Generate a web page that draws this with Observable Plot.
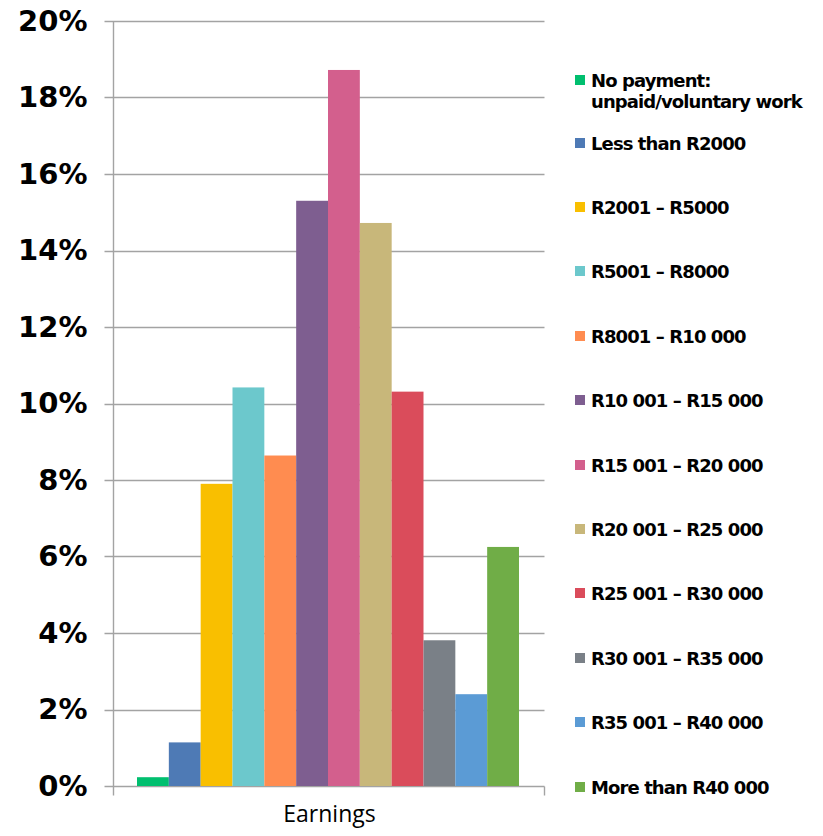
<!DOCTYPE html>
<html>
<head>
<meta charset="utf-8">
<script src="https://cdn.jsdelivr.net/npm/d3@7"></script>
<script src="https://cdn.jsdelivr.net/npm/@observablehq/plot@0.6"></script>
<style>
  body { margin: 0; background: #fff; }
  #wrap { position: relative; width: 823px; height: 836px; overflow: hidden; }
  #legend { position: absolute; left: 0; top: 0; font-family: "DejaVu Sans", sans-serif; font-weight: bold; font-size: 18px; letter-spacing: -0.9px; color: #000; }
  .item { position: absolute; left: 575px; white-space: nowrap; line-height: 21px; }
  .sw { position: absolute; left: 0; top: 5px; width: 10px; height: 10px; }
  .lbl { position: absolute; left: 16px; top: 0; }
</style>
</head>
<body>
<div id="wrap"><div id="legend"></div></div>
<script>
// ---- data ----
const categories = [
  "No payment:\nunpaid/voluntary work",
  "Less than R2000",
  "R2001 – R5000",
  "R5001 – R8000",
  "R8001 – R10 000",
  "R10 001 – R15 000",
  "R15 001 – R20 000",
  "R20 001 – R25 000",
  "R25 001 – R30 000",
  "R30 001 – R35 000",
  "R35 001 – R40 000",
  "More than R40 000"
];
const shares = [0.23, 1.14, 7.90, 10.42, 8.64, 15.30, 18.72, 14.72, 10.31, 3.81, 2.40, 6.25];
const colors = ["#00BF6F", "#4E7AB5", "#F9BF00", "#6CC8CC", "#FF8C50", "#7E5E90",
                "#D35F8D", "#C8B77A", "#DA4C5B", "#7A8087", "#5B9BD5", "#70AD47"];
const yTicks = [0, 2, 4, 6, 8, 10, 12, 14, 16, 18, 20];
const xLabel = "Earnings";

const data = categories.map((c, i) => ({cat: c, v: shares[i]}));

// axis lines, grid and tick stubs drawn with the plot's scales
const gridColor = "#a3a3a3";
function axisLines(index, scales, values, dims) {
  const g = d3.create("svg:g").attr("stroke", gridColor).attr("stroke-width", 1.4).attr("fill", "none");
  const xl = dims.marginLeft + 0.5;
  const xr = dims.width - dims.marginRight - 0.5;
  const y0 = scales.y(0);
  for (const t of yTicks) {
    const y = Math.round(scales.y(t)) + 0.5;
    g.append("line").attr("x1", xl - 9).attr("x2", xr).attr("y1", y).attr("y2", y);
  }
  const yb = Math.round(y0) + 0.5;
  g.append("line").attr("x1", xl).attr("x2", xl).attr("y1", Math.round(scales.y(20))).attr("y2", yb + 9);
  g.append("line").attr("x1", xr).attr("x2", xr).attr("y1", yb).attr("y2", yb + 9);
  return g.node();
}

const plot = Plot.plot({
  width: 823,
  height: 836,
  marginLeft: 113,
  marginRight: 278,
  marginTop: 21,
  marginBottom: 50,
  style: {background: "transparent", overflow: "visible"},
  x: {domain: categories, range: [137, 519], padding: 0, round: false, axis: null},
  y: {domain: [0, 20], axis: null},
  color: {domain: categories, range: colors},
  marks: [
    axisLines,
    Plot.barY(data, {x: "cat", y: "v", fill: "cat"}),
    Plot.axisY(yTicks, {
      tickSize: 0, tickPadding: 26,
      tickFormat: d => d + "%",
      fontSize: 29, fontWeight: "bold", fontFamily: "DejaVu Sans",
      letterSpacing: -1,
      fill: "#000", label: null
    }),
    Plot.text([xLabel], {
      frameAnchor: "bottom", dy: 35, text: d => d,
      fontSize: 23, fontFamily: "Open Sans", fill: "#000"
    })
  ]
});
document.getElementById("wrap").prepend(plot);

// legend
const legend = document.getElementById("legend");
const firstTop = 69.5, secondTop = 132.5, step = 64.4;
categories.forEach((c, i) => {
  const item = document.createElement("div");
  item.className = "item";
  item.style.top = (i === 0 ? firstTop : secondTop + (i - 1) * step) + "px";
  const sw = document.createElement("div");
  sw.className = "sw";
  sw.style.background = colors[i];
  const lbl = document.createElement("div");
  lbl.className = "lbl";
  lbl.innerHTML = c.split("\n").join("<br>");
  item.append(sw, lbl);
  legend.append(item);
});
</script>
</body>
</html>
